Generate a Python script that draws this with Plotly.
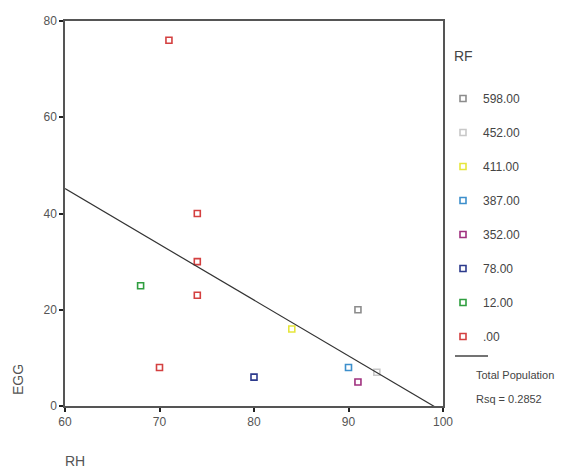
import numpy as np
import plotly.graph_objects as go

# Data
rf_labels = ["598.00", "452.00", "411.00", "387.00", "352.00", "78.00", "12.00", ".00"]
rf_colors = ["#8c8c8c", "#c8c8c8", "#e6e63c", "#3d8fcc", "#a0307f", "#2c3a8c", "#2f9e3f", "#d44040"]
rh_by_rf = [[91], [93], [84], [90], [91], [80], [68], [71, 74, 74, 74, 70]]
egg_by_rf = [[20], [7], [16], [8], [5], [6], [25], [76, 40, 30, 23, 8]]
x_ticks = [60, 70, 80, 90, 100]
y_ticks = [0, 20, 40, 60, 80]

all_x = np.concatenate([np.array(v, float) for v in rh_by_rf])
all_y = np.concatenate([np.array(v, float) for v in egg_by_rf])
slope, intercept = np.polyfit(all_x, all_y, 1)
rsq = np.corrcoef(all_x, all_y)[0, 1] ** 2

fig = go.Figure()
for lab, col, xs, ys in zip(rf_labels, rf_colors, rh_by_rf, egg_by_rf):
    fig.add_trace(go.Scatter(
        x=xs, y=ys, mode="markers", name=lab, legendgroup=lab,
        marker=dict(symbol="square-open", size=6, color=col, line=dict(width=1.6, color=col)),
    ))

lx = np.array([60, 100], float)
fig.add_trace(go.Scatter(x=lx, y=slope * lx + intercept, mode="lines",
                         line=dict(color="#333333", width=1.2), showlegend=False))

font = "Liberation Sans, Arial, sans-serif"
axis_common = dict(showline=True, linecolor="#555555", linewidth=1.5, mirror=True,
                   ticks="outside", ticklen=4, tickwidth=2, tickcolor="#222222",
                   showgrid=False, zeroline=False,
                   tickfont=dict(family=font, size=12, color="#555555"))
fig.update_xaxes(range=[60, 100], tickvals=x_ticks, **axis_common)
fig.update_yaxes(range=[0, 80], tickvals=y_ticks, **axis_common)

fig.update_layout(
    width=573, height=469,
    margin=dict(l=65, r=130, t=21, b=63),
    plot_bgcolor="white", paper_bgcolor="white",
    showlegend=True,
    legend=dict(x=1.0, y=(406 - 84) / 385, xanchor="left", yanchor="top",
                font=dict(family=font, size=12, color="#444444"),
                tracegroupgap=15, itemwidth=30, bgcolor="rgba(0,0,0,0)"),
    font=dict(family=font, color="#555555"),
)

px = lambda v: (v - 65) / 378
py = lambda v: (406 - v) / 385
fig.add_annotation(xref="paper", yref="paper", x=px(452), y=py(56),
                   text="RF", showarrow=False, xanchor="left", yanchor="middle",
                   font=dict(family=font, size=14, color="#444444"))
fig.add_shape(type="line", xref="paper", yref="paper",
              x0=px(455), x1=px(488), y0=py(356), y1=py(356),
              line=dict(color="#444444", width=1.5))
fig.add_annotation(xref="paper", yref="paper", x=px(474), y=py(375),
                   text="Total Population", showarrow=False, xanchor="left", yanchor="middle",
                   font=dict(family=font, size=11, color="#444444"))
fig.add_annotation(xref="paper", yref="paper", x=px(474), y=py(399),
                   text="Rsq = %.4f" % rsq, showarrow=False, xanchor="left", yanchor="middle",
                   font=dict(family=font, size=11, color="#444444"))
fig.add_annotation(xref="paper", yref="paper", x=px(18), y=py(380),
                   text="EGG", textangle=-90, showarrow=False, xanchor="center", yanchor="middle",
                   font=dict(family=font, size=14, color="#555555"))
fig.add_annotation(xref="paper", yref="paper", x=px(75), y=py(461),
                   text="RH", showarrow=False, xanchor="center", yanchor="middle",
                   font=dict(family=font, size=14, color="#555555"))

fig.write_html("out.html")
